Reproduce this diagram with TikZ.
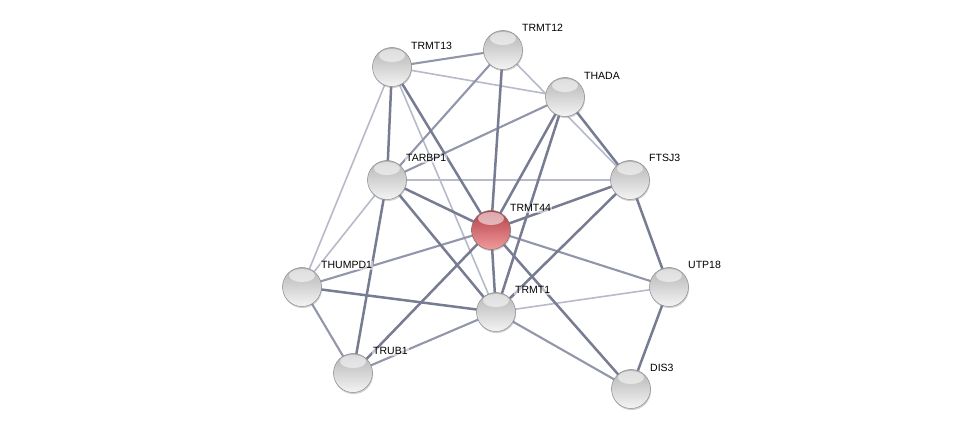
\documentclass[tikz,border=0pt]{standalone}
\usepackage{fontspec}
\setmainfont{Liberation Sans}
\usetikzlibrary{shadows,backgrounds,calc}
\definecolor{edark}{HTML}{777C93}
\definecolor{emed}{HTML}{9296AA}
\definecolor{elight}{HTML}{B7BACA}
\definecolor{balltop}{HTML}{B4B4B4}
\definecolor{ballbot}{HTML}{F4F4F4}
\definecolor{redtop}{HTML}{B04048}
\definecolor{redbot}{HTML}{F29A9C}
\tikzset{
  ballnode/.style={circle, minimum size=39pt, inner sep=0pt, draw=black!45, line width=0.5pt,
    top color=balltop, bottom color=ballbot,
    drop shadow={shadow xshift=0.6pt, shadow yshift=-1.6pt, opacity=0.35},
    path picture={
      \fill[white, opacity=0.55] ($(path picture bounding box.north)+(0pt,-8pt)$) ellipse (13pt and 6.5pt);
    }},
  rednode/.style={ballnode, top color=redtop, bottom color=redbot, draw=black!55},
  lab/.style={anchor=base west, inner sep=1pt, fill=white, fill opacity=0.55, text opacity=1,
    font=\fontsize{10.5}{12}\selectfont, text=black},
  dk/.style={draw=edark, line width=2.5pt},
  md/.style={draw=emed, line width=2.1pt},
  lt/.style={draw=elight, line width=1.6pt},
}
\begin{document}
\begin{tikzpicture}[x=1pt,y=-1pt]
\useasboundingbox (0,0) rectangle (975,435);
% nodes
\node[ballnode] (TRMT13) at (392,67) {};
\node[ballnode] (TRMT12) at (503,50) {};
\node[ballnode] (THADA) at (565,97) {};
\node[ballnode] (TARBP1) at (387,180) {};
\node[ballnode] (FTSJ3) at (630,180) {};
\node[rednode] (TRMT44) at (491,230) {};
\node[ballnode] (THUMPD1) at (302,287) {};
\node[ballnode] (UTP18) at (669,287) {};
\node[ballnode] (TRMT1) at (496,312) {};
\node[ballnode] (TRUB1) at (353,373) {};
\node[ballnode] (DIS3) at (631,389) {};
% labels
\node[lab] (lTRMT13) at (410,50) {TRMT13};
\node[lab] (lTRMT12) at (521,32) {TRMT12};
\node[lab] (lTHADA) at (583,80) {THADA};
\node[lab] (lTARBP1) at (405,162) {TARBP1};
\node[lab] (lFTSJ3) at (648,162) {FTSJ3};
\node[lab] (lTRMT44) at (509,212) {TRMT44};
\node[lab] (lTHUMPD1) at (320,269) {THUMPD1};
\node[lab] (lUTP18) at (687,269) {UTP18};
\node[lab] (lTRMT1) at (514,294) {TRMT1};
\node[lab] (lTRUB1) at (372,355) {TRUB1};
\node[lab] (lDIS3) at (649,372) {DIS3};
% edges
\begin{scope}[on background layer]
\fill[white] (0,0) rectangle (975,435);
\draw[lt] (TRMT13.center) -- (THADA.center);
\draw[lt] (TRMT13.center) -- (THUMPD1.center);
\draw[lt] (TRMT13.center) -- (TRMT1.center);
\draw[lt] (TRMT12.center) -- (FTSJ3.center);
\draw[lt] (TARBP1.center) -- (FTSJ3.center);
\draw[lt] (TARBP1.center) -- (THUMPD1.center);
\draw[lt] (TRMT1.center) -- (UTP18.center);
\draw[md] (TRMT13.center) -- (TRMT12.center);
\draw[md] (THADA.center) -- (TARBP1.center);
\draw[md] (TRMT12.center) -- (TARBP1.center);
\draw[md] (TRMT44.center) -- (THUMPD1.center);
\draw[md] (TRMT44.center) -- (UTP18.center);
\draw[md] (THUMPD1.center) -- (TRUB1.center);
\draw[md] (TRMT1.center) -- (DIS3.center);
\draw[md] (TRMT1.center) -- (TRUB1.center);
\draw[dk] (TRMT13.center) -- (TARBP1.center);
\draw[dk] (TRMT13.center) -- (TRMT44.center);
\draw[dk] (TRMT12.center) -- (TRMT44.center);
\draw[dk] (THADA.center) -- (FTSJ3.center);
\draw[dk] (THADA.center) -- (TRMT44.center);
\draw[dk] (THADA.center) -- (TRMT1.center);
\draw[dk] (TARBP1.center) -- (TRMT44.center);
\draw[dk] (TARBP1.center) -- (TRMT1.center);
\draw[dk] (TARBP1.center) -- (TRUB1.center);
\draw[dk] (FTSJ3.center) -- (TRMT1.center);
\draw[dk] (FTSJ3.center) -- (UTP18.center);
\draw[dk] (FTSJ3.center) -- (TRMT44.center);
\draw[dk] (TRMT44.center) -- (TRMT1.center);
\draw[dk] (TRMT44.center) -- (DIS3.center);
\draw[dk] (TRMT44.center) -- (TRUB1.center);
\draw[dk] (THUMPD1.center) -- (TRMT1.center);
\draw[dk] (UTP18.center) -- (DIS3.center);
\end{scope}
\end{tikzpicture}
\end{document}
